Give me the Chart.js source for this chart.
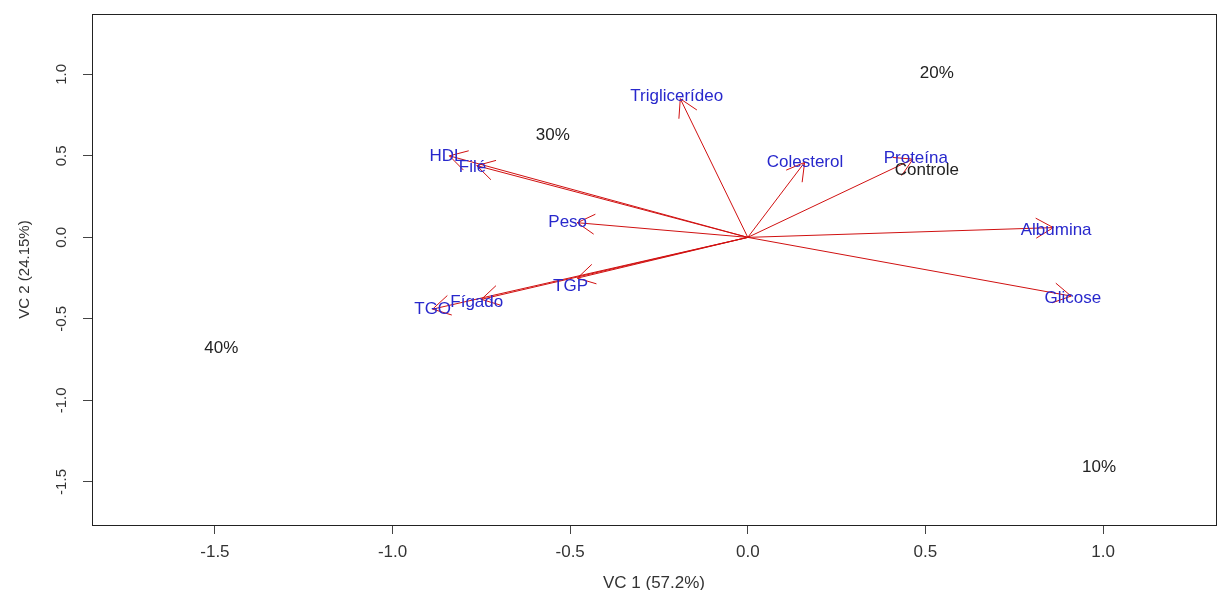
<!DOCTYPE html>
<html>
<head>
<meta charset="utf-8">
<script src="https://cdn.jsdelivr.net/npm/chart.js@4"></script>
<style>
  html, body { margin: 0; padding: 0; background: #fff; }
  #wrap { width: 1219px; height: 590px; }
</style>
</head>
<body>
<div id="wrap"><canvas id="biplot"></canvas></div>
<script>
// variable loadings (arrow tips) and where their labels sit
const varNames = ['Triglicerídeo', 'HDL', 'Filé', 'Peso', 'TGP', 'Fígado', 'TGO', 'Colesterol', 'Proteína', 'Albumina', 'Glicose'];
const varX = [-0.19, -0.84, -0.763, -0.48, -0.48, -0.75, -0.887, 0.16, 0.465, 0.86, 0.91];
const varY = [0.85, 0.50, 0.44, 0.09, -0.25, -0.38, -0.44, 0.46, 0.48, 0.06, -0.36];
const varLabelX = [-0.20, -0.848, -0.775, -0.507, -0.499, -0.763, -0.887, 0.161, 0.473, 0.868, 0.915];
const varLabelY = [0.865, 0.497, 0.429, 0.092, -0.30, -0.399, -0.442, 0.46, 0.485, 0.043, -0.374];

// observation scores (treatments)
const obsNames = ['10%', '20%', '30%', '40%', 'Controle'];
const obsX = [0.989, 0.532, -0.549, -1.482, 0.504];
const obsY = [-1.411, 1.006, 0.626, -0.681, 0.411];

// axes
const xTickVals = [-1.5, -1.0, -0.5, 0.0, 0.5, 1.0];
const yTickVals = [-1.5, -1.0, -0.5, 0.0, 0.5, 1.0];
const xRange = [-1.846, 1.318];
const yRange = [-1.764, 1.37];
const xTitle = 'VC 1 (57.2%)';
const yTitle = 'VC 2 (24.15%)';

const FONT = "'Liberation Sans', Arial, sans-serif";

// one two-point line per variable, from origin to tip
const arrowSets = varNames.map((name, i) => ({
    label: name,
    data: [{ x: 0, y: 0 }, { x: varX[i], y: varY[i] }],
    showLine: true,
    borderColor: '#d01010',
    borderWidth: 1,
    pointRadius: 0,
    pointHoverRadius: 0,
    fill: false
}));

const biplotExtras = {
    id: 'biplotExtras',
    afterDatasetsDraw(chart) {
        const { ctx, chartArea, scales: { x, y } } = chart;
        const ox = x.getPixelForValue(0);
        const oy = y.getPixelForValue(0);

        // arrow heads
        ctx.save();
        ctx.strokeStyle = '#d01010';
        ctx.lineWidth = 1;
        varNames.forEach((n, i) => {
            const tx = x.getPixelForValue(varX[i]);
            const ty = y.getPixelForValue(varY[i]);
            const back = Math.atan2(oy - ty, ox - tx);
            const len = 20, spread = Math.PI / 6;
            ctx.beginPath();
            ctx.moveTo(tx + len * Math.cos(back - spread), ty + len * Math.sin(back - spread));
            ctx.lineTo(tx, ty);
            ctx.lineTo(tx + len * Math.cos(back + spread), ty + len * Math.sin(back + spread));
            ctx.stroke();
        });

        // labels
        ctx.font = '17px ' + FONT;
        ctx.textAlign = 'center';
        ctx.textBaseline = 'middle';
        ctx.fillStyle = '#2828cc';
        varNames.forEach((n, i) => {
            ctx.fillText(n, x.getPixelForValue(varLabelX[i]), y.getPixelForValue(varLabelY[i]));
        });
        ctx.fillStyle = '#222';
        obsNames.forEach((n, i) => {
            ctx.fillText(n, x.getPixelForValue(obsX[i]), y.getPixelForValue(obsY[i]));
        });

        // frame
        ctx.strokeStyle = '#222';
        ctx.lineWidth = 1;
        ctx.strokeRect(Math.round(chartArea.left) + 0.5, Math.round(chartArea.top) + 0.5,
            Math.round(chartArea.width), Math.round(chartArea.height));
        ctx.restore();
    }
};

new Chart(document.getElementById('biplot'), {
    type: 'scatter',
    data: { datasets: arrowSets },
    options: {
        responsive: true,
        maintainAspectRatio: false,
        animation: false,
        layout: { padding: { top: 14, right: 3, left: 0, bottom: 0 } },
        plugins: {
            legend: { display: false },
            tooltip: { enabled: false }
        },
        scales: {
            x: {
                type: 'linear',
                min: xRange[0],
                max: xRange[1],
                afterBuildTicks: (scale) => { scale.ticks = xTickVals.map(v => ({ value: v })); },
                afterFit: (scale) => { scale.height = 65; scale.paddingLeft = 0; scale.paddingRight = 0; },
                grid: { display: true, drawOnChartArea: false, drawTicks: true, tickLength: 9, color: '#444' },
                border: { display: false },
                ticks: {
                    padding: 8,
                    color: '#333',
                    font: { family: FONT, size: 17 },
                    maxRotation: 0,
                    callback: (v) => Number(v).toFixed(1)
                },
                title: { display: true, text: xTitle, color: '#333', font: { family: FONT, size: 17, lineHeight: 0.8 }, padding: { top: 0, bottom: 0 } }
            },
            y: {
                type: 'linear',
                min: yRange[0],
                max: yRange[1],
                afterBuildTicks: (scale) => { scale.ticks = yTickVals.map(v => ({ value: v })); },
                afterFit: (scale) => { scale.width = 92; scale.paddingTop = 0; scale.paddingBottom = 0; },
                grid: { display: true, drawOnChartArea: false, drawTicks: true, tickLength: 9, color: '#444' },
                border: { display: false },
                ticks: {
                    padding: 8,
                    color: '#333',
                    crossAlign: 'center',
                    minRotation: 90,
                    maxRotation: 90,
                    font: { family: FONT, size: 15 },
                    callback: (v) => Number(v).toFixed(1)
                },
                title: { display: true, text: yTitle, color: '#333', font: { family: FONT, size: 15 }, padding: { top: 16, bottom: 0 } }
            }
        }
    },
    plugins: [biplotExtras]
});
</script>
</body>
</html>
